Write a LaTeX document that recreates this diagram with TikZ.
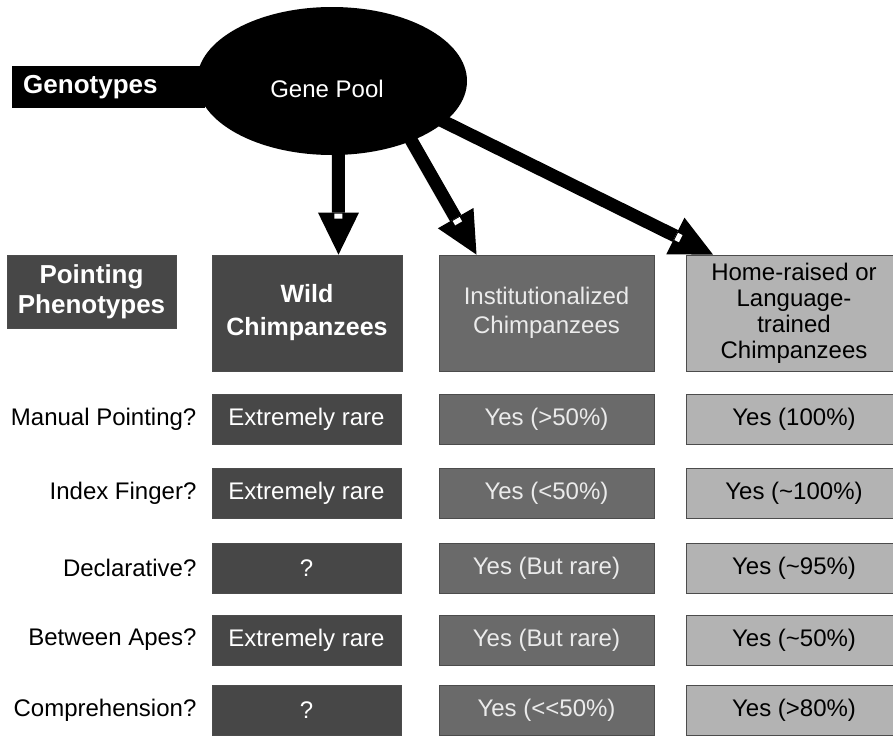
\documentclass[tikz,border=0pt]{standalone}
\usepackage{fontspec}
\setmainfont{Liberation Sans}
\usetikzlibrary{%
  positioning,
  arrows.meta,
  calc,
  shapes.geometric%
}
\definecolor{wildgray}{HTML}{474747}
\definecolor{instgray}{HTML}{6A6A6A}
\definecolor{homegray}{HTML}{B3B3B3}
\tikzset{
  cell/.style={
    #1,
    draw=black!70,
    line width=.8pt,
    minimum height=50pt,
    inner sep=0pt,
    font=\fontsize{24}{28}\selectfont
  },
  wildcell/.style={
    cell={fill=wildgray},
    text=white,
    minimum width=189pt
  },
  instcell/.style={
    cell={fill=instgray},
    text=white!92!black,
    minimum width=215pt
  },
  homecell/.style={
    cell={fill=homegray},
    text=black,
    minimum width=215pt
  },
  headcell/.style={
    minimum height=116pt,
    align=center
  },
  rowlabel/.style={
    inner sep=0pt,
    font=\fontsize{24}{28}\selectfont
  },
  pool/.style={
    ellipse,
    fill=black,
    minimum width=270pt,
    minimum height=148pt,
    inner sep=0pt
  },
  genobar/.style={
    fill=black,
    text=white,
    anchor=west,
    minimum height=42pt,
    text width=171pt,
    inner xsep=11pt,
    font=\bfseries\fontsize{26}{30}\selectfont
  },
  bigarrow/.style={
    line width=13pt,
    shorten <=-8pt,
    -{Triangle[width=41pt,length=42pt,line width=0pt]}
  },
  notch/.style={
    white,
    line width=8pt
  }
}

\begin{document}
\begin{tikzpicture}[x=1pt,y=-1pt]
\clip (0,0) rectangle (893,736);
\fill[white] (0,0) rectangle (893,736);
% genotypes
\node[genobar] (geno) at (12,87) {Genotypes};
\node[pool] (pool) at (332,81) {};
\node[text=white,font=\fontsize{24}{28}\selectfont] (poolname) at (327,89) {Gene Pool};
% phenotypes
\node[wildcell,headcell,minimum width=169pt,minimum height=73pt,
  font=\bfseries\fontsize{26}{30}\selectfont] (pheno) at (91.5,291.5) {Pointing\\Phenotypes};
\node[wildcell,headcell,minimum width=190pt,
  font=\bfseries\fontsize{25}{33}\selectfont] (wild) at (307,313) {Wild\\Chimpanzees};
\node[instcell,headcell,font=\fontsize{24}{29}\selectfont] (inst) at (546.5,313) {Institutionalized\\Chimpanzees};
\node[homecell,headcell,font=\fontsize{24}{26}\selectfont] (home) at (794,313) {Home-raised or\\Language-\\trained\\Chimpanzees};
% arrows
\coordinate (fromWild) at (pool.-85);
\coordinate (toWild) at ([xshift=31.5pt]wild.north);
\coordinate (fromInst) at (pool.-37);
\coordinate (toInst) at ([xshift=-70pt]inst.north);
\coordinate (fromHome) at (pool.-20);
\coordinate (toHome) at ([xshift=-81pt]home.north);
\foreach \from/\to in {fromWild/toWild,fromInst/toInst,fromHome/toHome} {
  \draw[bigarrow] (\from) -- (\to);
  \draw[notch] ($(\to)!36pt!(\from)$) -- ($(\to)!41pt!(\from)$);
}
% rows
\foreach \y/\quest/\wild/\inst/\home [count=\r] in {%
  419/Manual Pointing?/Extremely rare/Yes (>50\%)/Yes (100\%),
  493/Index Finger?/Extremely rare/Yes (<50\%)/Yes (\textasciitilde100\%),
  568/Declarative?/?/Yes (But rare)/Yes (\textasciitilde95\%),
  640/Between Apes?/Extremely rare/Yes (But rare)/Yes (\textasciitilde50\%),
  710/Comprehension?/?/Yes (<{}<50\%)/Yes (>80\%)%
} {
  \node[wildcell] (w\r) at (306.5,\y) {\wild};
  \node[instcell] (i\r) at (546.5,\y) {\inst};
  \node[homecell] (h\r) at (794,\y) {\home};
  \node[rowlabel,left=15pt of w\r] (q\r) {\quest};
}
\end{tikzpicture}
\end{document}
